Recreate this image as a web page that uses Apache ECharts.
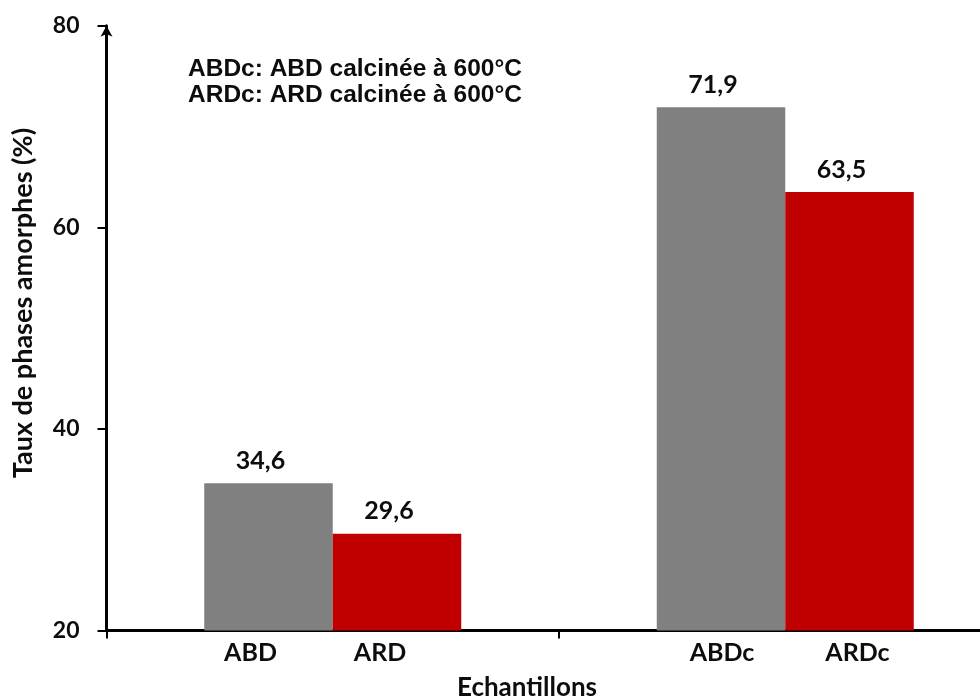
<!DOCTYPE html>
<html>
<head>
<meta charset="utf-8">
<script src="https://cdn.jsdelivr.net/npm/echarts@6/dist/echarts.min.js"></script>
<style>
  html, body { margin: 0; padding: 0; background: #ffffff; }
  #chart { width: 980px; height: 698px; }
</style>
</head>
<body>
<div id="chart"></div>
<script>
// Two sample groups (raw / calcined), each with an ABD and an ARD bar
const groups = ['brut', 'calciné'];
const abdNames = ['ABD', 'ABDc'];
const ardNames = ['ARD', 'ARDc'];
const abdValues = [34.6, 71.9];
const ardValues = [29.6, 63.5];
const yTicks = [20, 40, 60, 80];
const notes = ['ABDc: ABD calcinée à 600°C', 'ARDc: ARD calcinée à 600°C'];

const GREY = '#808080';
const RED = '#C00000';
const INK = '#0d0d0d';
const LABEL_FONT = 'Lato, "Open Sans", sans-serif';

const fmtComma = p => String(p.value).replace('.', ',');

// name labels under the bars are nudged a little, as in the printed figure
const abdNameShift = [-18, 1];
const ardNameShift = [-17, 8];

function valueSeries(name, values, color) {
  return {
    name: name,
    type: 'bar',
    xAxisIndex: 0,
    barWidth: 128.5,
    barGap: '0%',
    itemStyle: { color: color },
    label: {
      show: true,
      position: 'top',
      distance: 10,
      offset: [-8, 0],
      formatter: fmtComma,
      fontFamily: LABEL_FONT,
      fontWeight: 'bold',
      fontSize: 25,
      color: INK
    },
    data: values.slice(),
    silent: true
  };
}

// transparent twin bars that only carry the sample names below the axis
function nameSeries(names, values, shifts) {
  return {
    type: 'bar',
    xAxisIndex: 1,
    barWidth: 128.5,
    barGap: '0%',
    itemStyle: { color: 'rgba(0,0,0,0)' },
    silent: true,
    data: values.map((v, i) => ({
      value: v,
      label: {
        show: true,
        position: 'bottom',
        distance: 10,
        offset: [shifts[i], 0],
        formatter: names[i],
        fontFamily: LABEL_FONT,
        fontWeight: 'bold',
        fontSize: 25,
        color: INK
      }
    }))
  };
}

const chart = echarts.init(document.getElementById('chart'), null, { renderer: 'canvas' });

chart.setOption({
  animation: false,
  backgroundColor: '#ffffff',
  // the plot runs past the right edge of the page: its last category ends off-canvas
  grid: {
    left: 106.5, width: 905, top: 25.7, bottom: 67.5,
    containLabel: false,
    outerBoundsMode: 'none'
  },
  xAxis: [
    {
      type: 'category',
      data: groups,
      name: 'Echantillons',
      nameLocation: 'middle',
      nameGap: 44,
      nameTextStyle: {
        fontFamily: LABEL_FONT, fontWeight: 'bold', fontSize: 26, color: INK,
        padding: [0, 64, 0, 0]
      },
      axisLine: { show: true, lineStyle: { color: '#000', width: 3 } },
      axisTick: { show: true, alignWithLabel: false, length: 8, lineStyle: { color: '#000', width: 2 } },
      axisLabel: { show: false },
      splitLine: { show: false }
    },
    {
      type: 'category',
      data: groups,
      show: false
    }
  ],
  yAxis: {
    type: 'value',
    min: yTicks[0],
    max: yTicks[yTicks.length - 1],
    interval: yTicks[1] - yTicks[0],
    name: 'Taux de phases amorphes (%)',
    nameLocation: 'middle',
    nameGap: 70,
    nameTextStyle: {
      fontFamily: LABEL_FONT, fontWeight: 'bold', fontSize: 27, color: INK,
      padding: [0, 0, 0, 50]
    },
    axisLine: {
      show: true,
      symbol: ['none', 'arrow'],
      symbolSize: [9, 11],
      lineStyle: { color: '#000', width: 3 }
    },
    axisTick: { show: true, inside: false, length: 9, lineStyle: { color: '#000', width: 2 } },
    axisLabel: {
      margin: 27,
      fontFamily: LABEL_FONT,
      fontWeight: 'bold',
      fontSize: 23,
      color: INK,
      padding: [0, 0, 14, 0]
    },
    splitLine: { show: false }
  },
  graphic: [
    {
      type: 'text',
      left: 188,
      top: 56,
      style: {
        text: notes.join('\n'),
        font: 'bold 24.5px "Liberation Sans", Arial, sans-serif',
        lineHeight: 26,
        fill: INK
      }
    }
  ],
  series: [
    valueSeries('ABD', abdValues, GREY),
    valueSeries('ARD', ardValues, RED),
    nameSeries(abdNames, abdValues, abdNameShift),
    nameSeries(ardNames, ardValues, ardNameShift)
  ]
});
</script>
</body>
</html>
